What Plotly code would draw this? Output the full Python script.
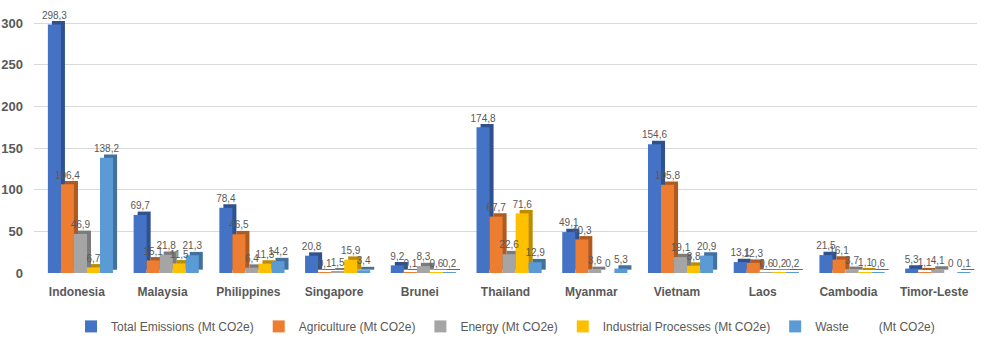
import plotly.graph_objects as go

# Greenhouse gas emissions by country and sector (Mt CO2e)
countries = ["Indonesia", "Malaysia", "Philippines", "Singapore", "Brunei", "Thailand",
             "Myanmar", "Vietnam", "Laos", "Cambodia", "Timor-Leste"]
total = [298.3, 69.7, 78.4, 20.8, 9.2, 174.8, 49.1, 154.6, 13.1, 21.5, 5.3]
agriculture = [106.4, 15.1, 46.5, 0.1, 0.1, 67.7, 40.3, 105.8, 12.3, 16.1, 1.1]
energy = [46.9, 21.8, 6.4, 1.5, 8.3, 22.6, 3.6, 19.1, 0.6, 3.7, 4.1]
industrial = [6.7, 11.5, 11.3, 15.9, 0.6, 71.6, 0.0, 8.8, 0.2, 1.1, 0.0]
waste = [138.2, 21.3, 14.2, 3.4, 0.2, 12.9, 5.3, 20.9, 0.2, 0.6, 0.1]

series_names = ["Total Emissions (Mt CO2e)", "Agriculture (Mt CO2e)", "Energy (Mt CO2e)",
                "Industrial Processes (Mt CO2e)",
                "Waste\u00a0\u00a0\u00a0\u00a0\u00a0\u00a0\u00a0\u00a0\u00a0(Mt CO2e)"]
series_values = [total, agriculture, energy, industrial, waste]
front_colors = ["#4472C4", "#ED7D31", "#A5A5A5", "#FFC000", "#5B9BD5"]
side_colors = ["#2F528F", "#AE5A21", "#7B7B7B", "#BC8C00", "#41719C"]

y_ticks = [0, 50, 100, 150, 200, 250, 300]

# bar geometry in category units
BAR_W = 0.152
START = -0.338
DEPTH_X = 0.047
DEPTH_Y = 4.0

TEXT_COLOR = "#595959"


def fmt(v):
    return "0" if v == 0 else f"{v:.1f}".replace(".", ",")


xs = list(range(len(countries)))
fig = go.Figure()

for k, (name, vals) in enumerate(zip(series_names, series_values)):
    off = START + k * BAR_W
    # darker side/top face giving the bars some depth
    fig.add_trace(go.Bar(
        x=xs, y=vals, base=[DEPTH_Y] * len(vals),
        offset=off + DEPTH_X, width=BAR_W,
        marker=dict(color=side_colors[k], line=dict(width=0)),
        showlegend=False, hoverinfo="skip",
    ))
    # front face
    fig.add_trace(go.Bar(
        x=xs, y=vals, offset=off, width=BAR_W, name=name,
        marker=dict(color=front_colors[k], line=dict(width=0)),
    ))

# value labels above each bar
for k, vals in enumerate(series_values):
    off = START + k * BAR_W
    fig.add_trace(go.Scatter(
        x=[x + off + BAR_W / 2 for x in xs],
        y=[v + DEPTH_Y for v in vals],
        mode="text", text=[fmt(v) for v in vals], textposition="top center",
        textfont=dict(family="Liberation Sans", size=10, color=TEXT_COLOR),
        showlegend=False, hoverinfo="skip", cliponaxis=False,
    ))

fig.update_layout(
    width=986, height=340,
    margin=dict(l=34, r=9, t=13, b=67),
    paper_bgcolor="white", plot_bgcolor="white",
    barmode="overlay",
    showlegend=True,
    legend=dict(orientation="h", x=0.5, xanchor="center",
                yref="container", y=0.04, yanchor="middle",
                font=dict(family="Liberation Sans Narrow, Liberation Sans", size=12, color=TEXT_COLOR),
                itemwidth=30, traceorder="normal"),
    xaxis=dict(range=[-0.5, len(countries) - 0.5], tickmode="array", tickvals=xs,
               ticktext=countries, showgrid=False, zeroline=False, showline=False,
               ticks="", ticklabelstandoff=10,
               tickfont=dict(family="Liberation Sans", size=12, color=TEXT_COLOR, weight="bold")),
    yaxis=dict(range=[0, 312], tickmode="array", tickvals=y_ticks, automargin=False,
               showgrid=True, gridcolor="#D9D9D9", gridwidth=1, zeroline=False,
               showline=False, ticks="", ticklabelstandoff=10,
               tickfont=dict(family="Liberation Sans", size=13, color=TEXT_COLOR, weight="bold")),
)

fig.write_html("out.html")
